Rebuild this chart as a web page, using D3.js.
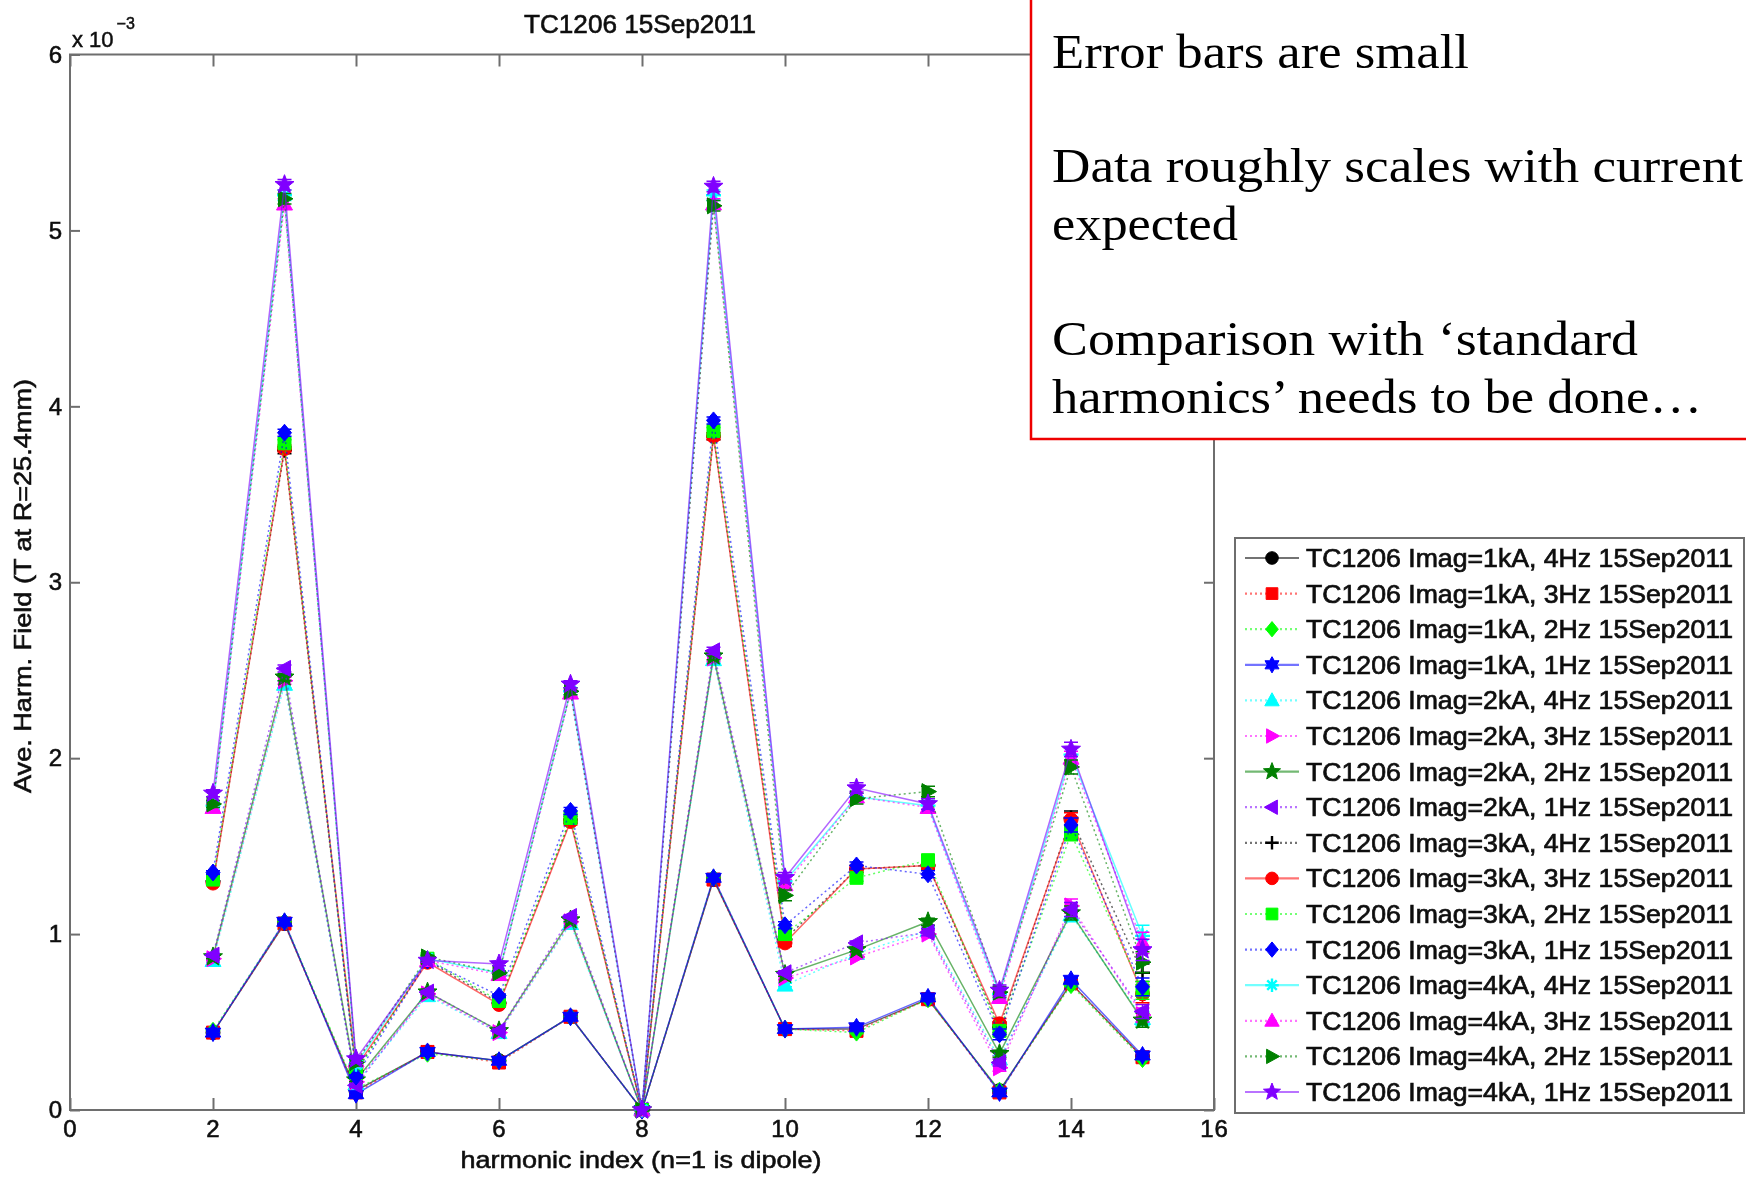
<!DOCTYPE html>
<html>
<head>
<meta charset="utf-8">
<script src="https://cdn.jsdelivr.net/npm/d3@7"></script>
<style>
  html, body { margin: 0; padding: 0; background: #fff; }
  svg { display: block; }
</style>
</head>
<body>
<svg id="chart" width="1746" height="1177"></svg>
<script>
// ---------------------------------------------------------------------------
// Data: average harmonic field (units of 1e-3 T at R = 25.4 mm)
// ---------------------------------------------------------------------------
const harmonics = [2, 3, 4, 5, 6, 7, 8, 9, 10, 11, 12, 13, 14, 15];
const xTickValues = [0, 2, 4, 6, 8, 10, 12, 14, 16];
const yTickValues = [0, 1, 2, 3, 4, 5, 6];

const legendLabels = [
  "TC1206 Imag=1kA, 4Hz 15Sep2011",
  "TC1206 Imag=1kA, 3Hz 15Sep2011",
  "TC1206 Imag=1kA, 2Hz 15Sep2011",
  "TC1206 Imag=1kA, 1Hz 15Sep2011",
  "TC1206 Imag=2kA, 4Hz 15Sep2011",
  "TC1206 Imag=2kA, 3Hz 15Sep2011",
  "TC1206 Imag=2kA, 2Hz 15Sep2011",
  "TC1206 Imag=2kA, 1Hz 15Sep2011",
  "TC1206 Imag=3kA, 4Hz 15Sep2011",
  "TC1206 Imag=3kA, 3Hz 15Sep2011",
  "TC1206 Imag=3kA, 2Hz 15Sep2011",
  "TC1206 Imag=3kA, 1Hz 15Sep2011",
  "TC1206 Imag=4kA, 4Hz 15Sep2011",
  "TC1206 Imag=4kA, 3Hz 15Sep2011",
  "TC1206 Imag=4kA, 2Hz 15Sep2011",
  "TC1206 Imag=4kA, 1Hz 15Sep2011"
];

// 1 kA runs
const imag1kA_4Hz = [0.44, 1.06, 0.11, 0.33, 0.28, 0.53, 0, 1.31, 0.46, 0.46, 0.63, 0.11, 0.72, 0.30];
const imag1kA_3Hz = [0.44, 1.06, 0.10, 0.33, 0.27, 0.53, 0, 1.31, 0.46, 0.45, 0.63, 0.10, 0.72, 0.30];
const imag1kA_2Hz = [0.45, 1.07, 0.12, 0.32, 0.28, 0.53, 0, 1.32, 0.46, 0.44, 0.63, 0.11, 0.71, 0.29];
const imag1kA_1Hz = [0.44, 1.07, 0.09, 0.33, 0.28, 0.53, 0, 1.32, 0.46, 0.47, 0.64, 0.10, 0.74, 0.31];
// 2 kA runs
const imag2kA_4Hz = [0.85, 2.42, 0.15, 0.65, 0.44, 1.06, 0, 2.56, 0.71, 0.89, 1.02, 0.29, 1.11, 0.52];
const imag2kA_3Hz = [0.86, 2.44, 0.16, 0.66, 0.44, 1.07, 0, 2.57, 0.75, 0.87, 1.00, 0.24, 1.16, 0.54];
const imag2kA_2Hz = [0.87, 2.46, 0.17, 0.67, 0.45, 1.08, 0, 2.58, 0.77, 0.91, 1.07, 0.32, 1.12, 0.51];
const imag2kA_1Hz = [0.88, 2.51, 0.14, 0.67, 0.45, 1.10, 0, 2.61, 0.78, 0.95, 1.01, 0.27, 1.14, 0.56];
// 3 kA runs
const imag3kA_4Hz = [1.30, 3.75, 0.22, 0.85, 0.61, 1.65, 0, 3.83, 0.97, 1.37, 1.39, 0.47, 1.66, 0.78];
const imag3kA_3Hz = [1.29, 3.76, 0.24, 0.84, 0.60, 1.64, 0, 3.83, 0.95, 1.37, 1.39, 0.49, 1.65, 0.66];
const imag3kA_2Hz = [1.31, 3.79, 0.21, 0.86, 0.62, 1.66, 0, 3.86, 1.00, 1.32, 1.42, 0.45, 1.57, 0.68];
const imag3kA_1Hz = [1.35, 3.85, 0.19, 0.85, 0.65, 1.70, 0, 3.92, 1.05, 1.39, 1.34, 0.43, 1.62, 0.70];
// 4 kA runs
const imag4kA_4Hz = [1.73, 5.20, 0.26, 0.86, 0.78, 2.38, 0, 5.20, 1.30, 1.78, 1.73, 0.66, 2.02, 0.99];
const imag4kA_3Hz = [1.72, 5.15, 0.28, 0.85, 0.77, 2.37, 0, 5.15, 1.28, 1.78, 1.72, 0.64, 2.00, 0.95];
const imag4kA_2Hz = [1.74, 5.18, 0.27, 0.87, 0.78, 2.38, 0, 5.14, 1.22, 1.77, 1.81, 0.67, 1.95, 0.84];
const imag4kA_1Hz = [1.80, 5.26, 0.29, 0.85, 0.83, 2.42, 0, 5.25, 1.32, 1.83, 1.74, 0.68, 2.05, 0.91];

// Standard error per harmonic, per magnet current
const err1kA = [0.005, 0.01, 0.005, 0.005, 0.005, 0.005, 0, 0.01, 0.005, 0.005, 0.005, 0.005, 0.01, 0.005];
const err2kA = [0.01, 0.02, 0.01, 0.01, 0.01, 0.01, 0, 0.02, 0.01, 0.01, 0.02, 0.02, 0.04, 0.04];
const err3kA = [0.01, 0.02, 0.01, 0.01, 0.01, 0.02, 0, 0.02, 0.02, 0.02, 0.02, 0.03, 0.04, 0.05];
const err4kA = [0.02, 0.03, 0.02, 0.01, 0.01, 0.02, 0, 0.03, 0.03, 0.03, 0.03, 0.03, 0.04, 0.06];

const seriesValues = [
  imag1kA_4Hz, imag1kA_3Hz, imag1kA_2Hz, imag1kA_1Hz,
  imag2kA_4Hz, imag2kA_3Hz, imag2kA_2Hz, imag2kA_1Hz,
  imag3kA_4Hz, imag3kA_3Hz, imag3kA_2Hz, imag3kA_1Hz,
  imag4kA_4Hz, imag4kA_3Hz, imag4kA_2Hz, imag4kA_1Hz
];
const seriesErrors = [
  err1kA, err1kA, err1kA, err1kA,
  err2kA, err2kA, err2kA, err2kA,
  err3kA, err3kA, err3kA, err3kA,
  err4kA, err4kA, err4kA, err4kA
];

// Line style per series: colour, dash pattern, marker
const seriesStyles = [
  { color: "#000000", dash: null,  marker: "o" },
  { color: "#ff0000", dash: "2,3", marker: "s" },
  { color: "#00ff00", dash: "2,3", marker: "d" },
  { color: "#0000ff", dash: null,  marker: "h" },
  { color: "#00ffff", dash: "2,3", marker: "^" },
  { color: "#ff00ff", dash: "2,3", marker: ">" },
  { color: "#008000", dash: null,  marker: "p" },
  { color: "#8000ff", dash: "2,3", marker: "<" },
  { color: "#000000", dash: "2,3", marker: "+" },
  { color: "#ff0000", dash: null,  marker: "o" },
  { color: "#00ff00", dash: "2,3", marker: "s" },
  { color: "#0000ff", dash: "2,3", marker: "d" },
  { color: "#00ffff", dash: null,  marker: "*" },
  { color: "#ff00ff", dash: "2,3", marker: "^" },
  { color: "#008000", dash: "2,3", marker: ">" },
  { color: "#8000ff", dash: null,  marker: "p" }
];

const notes = [
  { text: "Error bars are small", y: 68, len: 417 },
  { text: "Data roughly scales with current", y: 182, len: 691 },
  { text: "expected", y: 240, len: 186 },
  { text: "Comparison with \u2018standard", y: 355, len: 586 },
  { text: "harmonics\u2019 needs to be done\u2026", y: 413, len: 650 }
];

// ---------------------------------------------------------------------------
// Marker shapes
// ---------------------------------------------------------------------------
function poly(pts) {
  return "M" + pts.map(p => p[0].toFixed(2) + "," + p[1].toFixed(2)).join("L") + "Z";
}
function star(n, ro, ri) {
  const pts = [];
  for (let i = 0; i < 2 * n; i++) {
    const a = -Math.PI / 2 + i * Math.PI / n;
    const r = i % 2 === 0 ? ro : ri;
    pts.push([r * Math.cos(a), r * Math.sin(a)]);
  }
  return poly(pts);
}
function markerShape(type, k) {
  const s = k || 1;
  switch (type) {
    case "o": { const r = 7 * s; return { d: `M${r},0A${r},${r} 0 1,1 ${-r},0A${r},${r} 0 1,1 ${r},0Z`, fill: true }; }
    case "s": { const h = 6.5 * s; return { d: poly([[-h, -h], [h, -h], [h, h], [-h, h]]), fill: true }; }
    case "d": return { d: poly([[0, -8.5 * s], [7 * s, 0], [0, 8.5 * s], [-7 * s, 0]]), fill: true };
    case "h": return { d: star(6, 9 * s, 5.2 * s), fill: true };
    case "^": return { d: poly([[0, -8.5 * s], [8 * s, 6 * s], [-8 * s, 6 * s]]), fill: true };
    case ">": return { d: poly([[8.5 * s, 0], [-6 * s, -8 * s], [-6 * s, 8 * s]]), fill: true };
    case "<": return { d: poly([[-8.5 * s, 0], [6 * s, -8 * s], [6 * s, 8 * s]]), fill: true };
    case "p": return { d: star(5, 10 * s, 4.3 * s), fill: true };
    case "+": { const r = 7.5 * s; return { d: `M${-r},0H${r}M0,${-r}V${r}`, fill: false }; }
    case "*": { const r = 7.5 * s, q = 5.3 * s; return { d: `M${-r},0H${r}M0,${-r}V${r}M${-q},${-q}L${q},${q}M${-q},${q}L${q},${-q}`, fill: false }; }
  }
}

// ---------------------------------------------------------------------------
// Chart
// ---------------------------------------------------------------------------
const svg = d3.select("#chart");
const x = d3.scaleLinear().domain([0, 16]).range([70, 1214]);
const y = d3.scaleLinear().domain([0, 6]).range([1110, 54.5]);

const defs = svg.append("defs");
defs.append("filter").attr("id", "soft")
  .attr("x", "-5%").attr("y", "-5%").attr("width", "110%").attr("height", "110%")
  .append("feGaussianBlur").attr("stdDeviation", 0.6);

const chart = svg.append("g").attr("filter", "url(#soft)");
const sans = "'Liberation Sans', Arial, Helvetica, sans-serif";
const axisGray = "#6e6e6e";
const ink = "#111";

// slightly heavier strokes on chart text
function heavy(sel, w) {
  sel.attr("stroke", ink).attr("stroke-width", w || 0.5).attr("paint-order", "stroke");
}

// Plot frame
chart.append("rect")
  .attr("x", x(0)).attr("y", y(6))
  .attr("width", x(16) - x(0)).attr("height", y(0) - y(6))
  .attr("fill", "#fff").attr("stroke", axisGray).attr("stroke-width", 2);

function styleAxis(g) {
  g.select(".domain").remove();
  g.selectAll(".tick line").attr("stroke", axisGray).attr("stroke-width", 2);
  g.selectAll(".tick text")
    .attr("fill", ink).attr("font-family", sans).attr("font-size", 24)
    .attr("letter-spacing", 1)
    .call(heavy, 0.6);
}

chart.append("g").attr("transform", `translate(0,${y(0)})`)
  .call(d3.axisBottom(x).tickValues(xTickValues).tickFormat(d3.format("d"))
    .tickSize(-12).tickSizeOuter(0).tickPadding(10))
  .call(styleAxis);
chart.append("g").attr("transform", `translate(0,${y(6)})`)
  .call(d3.axisTop(x).tickValues(xTickValues).tickFormat("")
    .tickSize(-12).tickSizeOuter(0))
  .call(styleAxis);
chart.append("g").attr("transform", `translate(${x(0)},0)`)
  .call(d3.axisLeft(y).tickValues(yTickValues).tickFormat(d3.format("d"))
    .tickSize(-10).tickSizeOuter(0).tickPadding(7))
  .call(styleAxis);
chart.append("g").attr("transform", `translate(${x(16)},0)`)
  .call(d3.axisRight(y).tickValues(yTickValues).tickFormat("")
    .tickSize(-10).tickSizeOuter(0))
  .call(styleAxis);

// Exponent label
const expo = chart.append("text")
  .attr("x", 72).attr("y", 47)
  .attr("font-family", sans).attr("font-size", 22).attr("fill", ink)
  .call(heavy, 0.5);
expo.append("tspan").text("x 10");
expo.append("tspan").attr("dx", 3).attr("dy", -18).attr("font-size", 16).text("\u22123");

// Title and axis titles
chart.append("text")
  .attr("x", 640).attr("y", 33).attr("text-anchor", "middle")
  .attr("font-family", sans).attr("font-size", 25).attr("fill", ink)
  .attr("textLength", 232).attr("lengthAdjust", "spacingAndGlyphs")
  .call(heavy, 0.6)
  .text("TC1206 15Sep2011");
chart.append("text")
  .attr("x", 641).attr("y", 1168).attr("text-anchor", "middle")
  .attr("font-family", sans).attr("font-size", 24).attr("fill", ink)
  .attr("textLength", 361).attr("lengthAdjust", "spacingAndGlyphs")
  .call(heavy, 0.6)
  .text("harmonic index (n=1 is dipole)");
chart.append("text")
  .attr("transform", "translate(31,586) rotate(-90)").attr("text-anchor", "middle")
  .attr("font-family", sans).attr("font-size", 24).attr("fill", ink)
  .attr("textLength", 414).attr("lengthAdjust", "spacingAndGlyphs")
  .call(heavy, 0.6)
  .text("Ave. Harm. Field (T at R=25.4mm)");

// Series
const line = d3.line().x(d => x(d.n)).y(d => y(d.v));
const plot = chart.append("g");

seriesValues.forEach((vals, i) => {
  const st = seriesStyles[i];
  const errs = seriesErrors[i];
  const pts = harmonics.map((n, j) => ({ n, v: vals[j], e: errs[j] }));
  const g = plot.append("g");

  g.append("path").datum(pts)
    .attr("d", line)
    .attr("fill", "none")
    .attr("stroke", st.color)
    .attr("stroke-opacity", 0.6)
    .attr("stroke-width", 1.5)
    .attr("stroke-dasharray", st.dash);

  // error bars
  const eb = g.selectAll(".err").data(pts.filter(p => p.e > 0)).enter().append("g");
  eb.append("path")
    .attr("d", p => {
      const xc = x(p.n), y1 = y(p.v + p.e), y2 = y(p.v - p.e);
      return `M${xc},${y1}V${y2}M${xc - 7},${y1}H${xc + 7}M${xc - 7},${y2}H${xc + 7}`;
    })
    .attr("fill", "none").attr("stroke", st.color).attr("stroke-width", 1.5);

  const shape = markerShape(st.marker, 1);
  g.selectAll(".mk").data(pts).enter().append("path")
    .attr("transform", p => `translate(${x(p.n)},${y(p.v)})`)
    .attr("d", shape.d)
    .attr("fill", shape.fill ? st.color : "none")
    .attr("stroke", st.color)
    .attr("stroke-width", shape.fill ? 1 : 2.4);
});

// Legend
const lg = chart.append("g");
const legendTop = 538, legendLeft = 1235, rowH = 35.6;
lg.append("rect")
  .attr("x", legendLeft).attr("y", legendTop)
  .attr("width", 509).attr("height", 575)
  .attr("fill", "#fff").attr("stroke", axisGray).attr("stroke-width", 2);

legendLabels.forEach((lab, i) => {
  const st = seriesStyles[i];
  const cy = legendTop + 20 + i * rowH;
  const row = lg.append("g");
  row.append("line")
    .attr("x1", 1245).attr("x2", 1299).attr("y1", cy).attr("y2", cy)
    .attr("stroke", st.color).attr("stroke-opacity", 0.55).attr("stroke-width", 2.2)
    .attr("stroke-dasharray", st.dash);
  const shape = markerShape(st.marker, 0.9);
  row.append("path")
    .attr("transform", `translate(1272,${cy})`)
    .attr("d", shape.d)
    .attr("fill", shape.fill ? st.color : "none")
    .attr("stroke", st.color)
    .attr("stroke-width", shape.fill ? 1 : 2.4);
  row.append("text")
    .attr("x", 1306).attr("y", cy + 9)
    .attr("font-family", sans).attr("font-size", 25).attr("fill", ink)
    .attr("textLength", 427).attr("lengthAdjust", "spacingAndGlyphs")
    .call(heavy, 0.7)
    .text(lab);
});

// Notes panel
const notesG = svg.append("g");
notesG.append("rect")
  .attr("x", 1031).attr("y", -10)
  .attr("width", 760).attr("height", 449)
  .attr("fill", "#fff").attr("stroke", "#ee0000").attr("stroke-width", 2.5);
notesG.selectAll("text.note").data(notes).enter().append("text")
  .attr("class", "note")
  .attr("x", 1052).attr("y", d => d.y)
  .attr("font-family", "'Liberation Serif', 'Times New Roman', serif")
  .attr("font-size", 48).attr("fill", "#000")
  .attr("textLength", d => d.len).attr("lengthAdjust", "spacingAndGlyphs")
  .text(d => d.text);
</script>
</body>
</html>
